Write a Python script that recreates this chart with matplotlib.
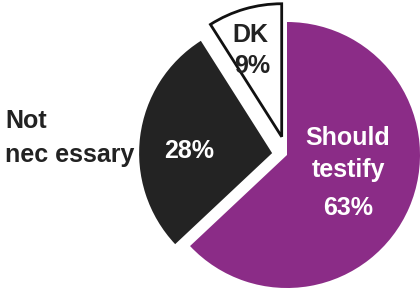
import matplotlib.pyplot as plt

# 数据
labels = ['Should\ntestify', 'Not\nnecessary', 'DK']
values = [63, 28, 9]
colors = ['#8b2c87', '#232323', '#ffffff']
explode = [0, 15, 19]  # pie 的 explode 是数据单位（这里即像素）

fig = plt.figure(figsize=(4.2, 2.88), dpi=100)
ax = fig.add_axes([0, 0, 1, 1])

wedges, _ = ax.pie(values, colors=colors, explode=explode, startangle=90,
                   counterclock=False, radius=133, center=(287, 133),
                   wedgeprops=dict(linewidth=0))
# DK 扇形加黑边
wedges[2].set_edgecolor('#111111')
wedges[2].set_linewidth(2)

ax.set_xlim(0, 420)
ax.set_ylim(0, 288)
ax.axis('off')

font = dict(family=['Liberation Sans', 'DejaVu Sans'], fontsize=18, fontweight='bold')

ax.text(5, 167, 'Not', ha='left', va='center', color='#222222', **font)
ax.text(5, 133, 'nec essary', ha='left', va='center', color='#222222', **font)
ax.text(189, 137, f'{values[1]}%', ha='center', va='center', color='white', **font)
ax.text(348, 150, 'Should', ha='center', va='center', color='white', **font)
ax.text(348, 118, 'testify', ha='center', va='center', color='white', **font)
ax.text(348, 80, f'{values[0]}%', ha='center', va='center', color='white', **font)
ax.text(250, 253, 'DK', ha='center', va='center', color='#222222', **font)
ax.text(252, 222, f'{values[2]}%', ha='center', va='center', color='#222222', **font)

fig.savefig('out.png', dpi=100)
